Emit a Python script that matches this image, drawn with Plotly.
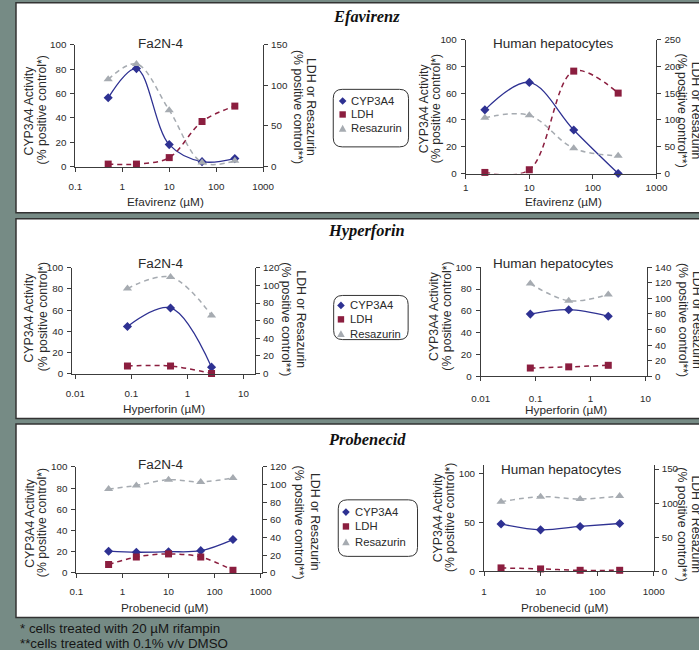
import plotly.graph_objects as go

W, H = 699, 650
# measured mapping between the figure's own pixels and the photographed picture
SX, OX = 0.973, 8.5
SY, OY = 0.986, 4.7
FS = 1.025  # font compensation for the slight shrink


def fx(p):
    return ((p - OX) / SX) / W


def fy(p):
    return 1 - ((p - OY) / SY) / H


# ---------------- data ----------------
efv_fa_conc = [0.5, 2, 10, 50, 250]
efv_fa_cyp = [56.5, 80.5, 18, 4, 6.5]
efv_fa_ldh = [3, 3, 11, 55.5, 74.5]
efv_fa_res = [107.5, 126.5, 69.5, 5, 7]

efv_hh_conc = [2, 10, 50, 250]
efv_hh_cyp = [47.5, 68, 32.5, 0]
efv_hh_ldh = [2, 7, 191, 150]
efv_hh_res = [104, 108.5, 47, 33]

hyp_fa_conc = [0.085, 0.5, 2.7]
hyp_fa_cyp = [44.5, 62, 6]
hyp_fa_ldh = [8.5, 8.5, 0]
hyp_fa_res = [96.5, 109.5, 66]

hyp_hh_conc = [0.08, 0.4, 2.1]
hyp_hh_cyp = [57, 61, 55]
hyp_hh_ldh = [10.5, 12, 14]
hyp_hh_res = [119, 97, 105]

pro_fa_conc = [0.5, 2, 10, 50, 250]
pro_fa_cyp = [20.5, 19.5, 20, 21, 31.5]
pro_fa_ldh = [9.5, 18, 21.5, 18, 3]
pro_fa_res = [95, 99, 105.5, 103, 107.5]

pro_hh_conc = [2, 10, 50, 250]
pro_hh_cyp = [48.5, 42.5, 46, 49]
pro_hh_ldh = [5, 3.5, 1.5, 1.5]
pro_hh_res = [102, 109.5, 106, 110.5]

series_names = ["CYP3A4", "LDH", "Resazurin"]
section_titles = ["Efavirenz", "Hyperforin", "Probenecid"]
cell_titles = ["Fa2N-4", "Human hepatocytes"]
xticks_a = [0.1, 1, 10, 100, 1000]
xticks_b = [1, 10, 100, 1000]
xticks_c = [0.01, 0.1, 1, 10]
left_title = ["CYP3A4 Activity", "(% positive control*)"]
right_title = ["LDH or Resazurin", "(% positive control**)"]
footnotes = ["* cells treated with 20 \u00b5M rifampin", "**cells treated with 0.1% v/v DMSO"]

# ---------------- style ----------------
BLUE = "#2e3192"
RED = "#8b1e3f"
GREY = "#a6abb1"
AX = "#3c3c3c"
TXT = "#2a2a2a"
SANS = "Liberation Sans, Arial, sans-serif"
SERIF = "Liberation Serif, Times New Roman, serif"
BG = "#768b85"


def fmt(v):
    return ("%g" % v)


subplots = [
    dict(c=efv_fa_conc, cyp=efv_fa_cyp, ldh=efv_fa_ldh, res=efv_fa_res,
         x0=74, x1=262, y0=43.7, y1=165.7, xr=[-1, 3], xt=xticks_a,
         yl=[0, 100], yld=20, yr=[0, 150], yrd=50, title=cell_titles[0], tpos=(160, 42.5),
         xtitle="Efavirenz (\u00b5M)", xtpos=(164, 201), ylx=(28, 41), yly=109,
         yrx=(310, 297), yry=106, stand=7),
    dict(c=efv_hh_conc, cyp=efv_hh_cyp, ldh=efv_hh_ldh, res=efv_hh_res,
         x0=465, x1=656, y0=38.3, y1=172.7, xr=[0, 3], xt=xticks_b,
         yl=[0, 100], yld=20, yr=[0, 250], yrd=50, title=cell_titles[1], tpos=(552, 42),
         xtitle="Efavirenz (\u00b5M)", xtpos=(563, 201), ylx=(424, 436), yly=107.5,
         yrx=(696, 682), yry=110, stand=1),
    dict(c=hyp_fa_conc, cyp=hyp_fa_cyp, ldh=hyp_fa_ldh, res=hyp_fa_res,
         x0=70.7, x1=254, y0=267.3, y1=373.3, xr=[-2.059, 1.209], xt=xticks_c,
         yl=[0, 100], yld=20, yr=[0, 120], yrd=20, title=cell_titles[0], tpos=(160, 262.7),
         xtitle="Hyperforin (\u00b5M)", xtpos=(163, 408.3), ylx=(28, 41.7), yly=316.7,
         yrx=(300, 285), yry=319, stand=7),
    dict(c=hyp_hh_conc, cyp=hyp_hh_cyp, ldh=hyp_hh_ldh, res=hyp_hh_res,
         x0=480, x1=646.7, y0=266.7, y1=376, xr=[-2, 1.03], xt=xticks_c,
         yl=[0, 100], yld=20, yr=[0, 140], yrd=20, title=cell_titles[1], tpos=(552, 262.7),
         xtitle="Hyperforin (\u00b5M)", xtpos=(565, 409.5), ylx=(433, 446.7), yly=315.8,
         yrx=(696, 682), yry=320, stand=9),
    dict(c=pro_fa_conc, cyp=pro_fa_cyp, ldh=pro_fa_ldh, res=pro_fa_res,
         x0=75, x1=261, y0=467, y1=573.3, xr=[-1, 3.03], xt=xticks_a,
         yl=[0, 100], yld=20, yr=[0, 120], yrd=20, title=cell_titles[0], tpos=(160, 464.3),
         xtitle="Probenecid (\u00b5M)", xtpos=(163, 608.3), ylx=(28.3, 40.7), yly=523.3,
         yrx=(313.3, 297.7), yry=522.5, stand=5),
    dict(c=pro_hh_conc, cyp=pro_hh_cyp, ldh=pro_hh_ldh, res=pro_hh_res,
         x0=483.3, x1=653.3, y0=465, y1=571.7, xr=[0, 3], xt=xticks_b,
         yl=[0, 109], yld=50, yr=[0, 156], yrd=50, title=cell_titles[1], tpos=(560, 469.3),
         xtitle="Probenecid (\u00b5M)", xtpos=(564, 608.3), ylx=(437.3, 450), yly=517.5,
         yrx=(696, 682), yry=525, stand=7),
]

fig = go.Figure()
layout = dict(
    autosize=True,
    margin=dict(l=0, r=0, t=0, b=0, pad=0),
    paper_bgcolor=BG, plot_bgcolor="rgba(0,0,0,0)",
    showlegend=False,
    font=dict(family=SANS, color=TXT),
)
annotations = []
shapes = []


def ann(text, x, y, size, angle=0, xanchor="center", family=SANS, color=TXT):
    annotations.append(dict(text=text, x=fx(x), y=fy(y), xref="paper", yref="paper",
                            showarrow=False, textangle=angle, xanchor=xanchor, yanchor="middle",
                            font=dict(family=family, size=round(size * FS, 2), color=color)))


# white panels with dark borders
for (t, b) in [(1.5, 212), (218, 418.5), (424, 618)]:
    shapes.append(dict(type="rect", xref="paper", yref="paper", x0=fx(14.5), x1=fx(716),
                       y0=fy(b), y1=fy(t), fillcolor="white",
                       line=dict(color="#333333", width=1.5), layer="below"))

for i, sp in enumerate(subplots, start=1):
    a, b = 2 * i - 1, 2 * i
    xn = "x" if i == 1 else "x%d" % i
    yan = "y" if a == 1 else "y%d" % a
    ybn = "y%d" % b
    xk = "xaxis" if i == 1 else "xaxis%d" % i
    yak = "yaxis" if a == 1 else "yaxis%d" % a
    ybk = "yaxis%d" % b
    common = dict(showline=True, linecolor=AX, linewidth=1, ticks="outside", ticklen=4,
                  tickcolor=AX, tickwidth=1, showgrid=False, zeroline=False,
                  tickfont=dict(family=SANS, size=9.8, color=TXT), fixedrange=True)
    layout[xk] = dict(type="log", range=sp["xr"], domain=[fx(sp["x0"]), fx(sp["x1"])],
                      anchor=yan, tickmode="array", tickvals=sp["xt"],
                      ticktext=[fmt(v) for v in sp["xt"]], ticklabelstandoff=int(sp["stand"]), **common)
    layout[yak] = dict(range=sp["yl"], domain=[fy(sp["y1"]), fy(sp["y0"])], anchor=xn,
                       dtick=sp["yld"], tick0=0, ticklabelstandoff=2, **common)
    layout[ybk] = dict(range=sp["yr"], overlaying=yan, side="right", anchor=xn,
                       dtick=sp["yrd"], tick0=0, ticklabelstandoff=1, **common)

    fig.add_trace(go.Scatter(x=sp["c"], y=sp["cyp"], name=series_names[0], xaxis=xn, yaxis=yan,
                             mode="lines+markers", cliponaxis=False,
                             line=dict(color=BLUE, width=1.3, shape="spline", smoothing=1),
                             marker=dict(symbol="diamond", size=7, color=BLUE)))
    fig.add_trace(go.Scatter(x=sp["c"], y=sp["ldh"], name=series_names[1], xaxis=xn, yaxis=ybn,
                             mode="lines+markers", cliponaxis=False,
                             line=dict(color=RED, width=1.5, dash="5px,4px", shape="spline", smoothing=1),
                             marker=dict(symbol="square", size=7, color=RED)))
    fig.add_trace(go.Scatter(x=sp["c"], y=sp["res"], name=series_names[2], xaxis=xn, yaxis=ybn,
                             mode="lines+markers", cliponaxis=False,
                             line=dict(color=GREY, width=1.5, dash="5px,4px", shape="spline", smoothing=1),
                             marker=dict(symbol="triangle-up", size=8, color=GREY)))

    ann(sp["title"], sp["tpos"][0], sp["tpos"][1], 13.2)
    ann(sp["xtitle"], sp["xtpos"][0], sp["xtpos"][1], 11.5)
    ann(left_title[0], sp["ylx"][0], sp["yly"], 12, angle=-90)
    ann(left_title[1], sp["ylx"][1], sp["yly"], 12, angle=-90)
    ann(right_title[0], sp["yrx"][0], sp["yry"], 12, angle=90)
    ann(right_title[1], sp["yrx"][1], sp["yry"], 12, angle=90)

# section titles
for name, y in zip(section_titles, [15, 230, 439]):
    ann("<b><i>%s</i></b>" % name, 366, y, 16, family=SERIF, color="#111111")

# legends (rounded boxes)
legends = [
    dict(box=(332.3, 88.3, 407.7, 146), ys=(100, 113.5, 127.5), mx=341.7, tx=348.3),
    dict(box=(332.7, 295, 407.3, 339.3), ys=(305, 319, 333.5), mx=340, tx=346.7),
    dict(box=(337.3, 500, 416.7, 556.7), ys=(512.3, 526.7, 542.3), mx=345, tx=352.3),
]


def P(x, y):
    return "%.5f,%.5f" % (fx(x), fy(y))


for lg in legends:
    x0, y0, x1, y1 = lg["box"]
    r = 9
    path = ("M " + P(x0 + r, y0) + " L " + P(x1 - r, y0) + " Q " + P(x1, y0) + " " + P(x1, y0 + r) +
            " L " + P(x1, y1 - r) + " Q " + P(x1, y1) + " " + P(x1 - r, y1) +
            " L " + P(x0 + r, y1) + " Q " + P(x0, y1) + " " + P(x0, y1 - r) +
            " L " + P(x0, y0 + r) + " Q " + P(x0, y0) + " " + P(x0 + r, y0) + " Z")
    shapes.append(dict(type="path", xref="paper", yref="paper", path=path,
                       line=dict(color="#333333", width=1), fillcolor="white", layer="above"))
    mx = lg["mx"]
    cy0, cy1, cy2 = lg["ys"]
    d = 3.8
    shapes.append(dict(type="path", xref="paper", yref="paper",
                       path="M " + P(mx, cy0 - d) + " L " + P(mx + d, cy0) + " L " + P(mx, cy0 + d) +
                            " L " + P(mx - d, cy0) + " Z",
                       fillcolor=BLUE, line=dict(width=0), layer="above"))
    s = 3.2
    shapes.append(dict(type="rect", xref="paper", yref="paper", x0=fx(mx - s), x1=fx(mx + s),
                       y0=fy(cy1 + s), y1=fy(cy1 - s), fillcolor=RED, line=dict(width=0), layer="above"))
    shapes.append(dict(type="path", xref="paper", yref="paper",
                       path="M " + P(mx - 3.8, cy2 + 3.2) + " L " + P(mx + 3.8, cy2 + 3.2) + " L " +
                            P(mx, cy2 - 3.6) + " Z",
                       fillcolor=GREY, line=dict(width=0), layer="above"))
    for nm, yy in zip(series_names, lg["ys"]):
        ann(nm, lg["tx"], yy, 11, xanchor="left")

# footnotes
ann(footnotes[0], 16.5, 629, 13, xanchor="left", color="#151515")
ann(footnotes[1], 16.5, 644, 13, xanchor="left", color="#151515")

layout["annotations"] = annotations
layout["shapes"] = shapes
fig.update_layout(**layout)
fig.write_html(
    "out.html",
    config={"displayModeBar": False},
    default_width="%dpx" % W,
    default_height="%dpx; position:absolute; left:0px; top:0px" % H,
)
